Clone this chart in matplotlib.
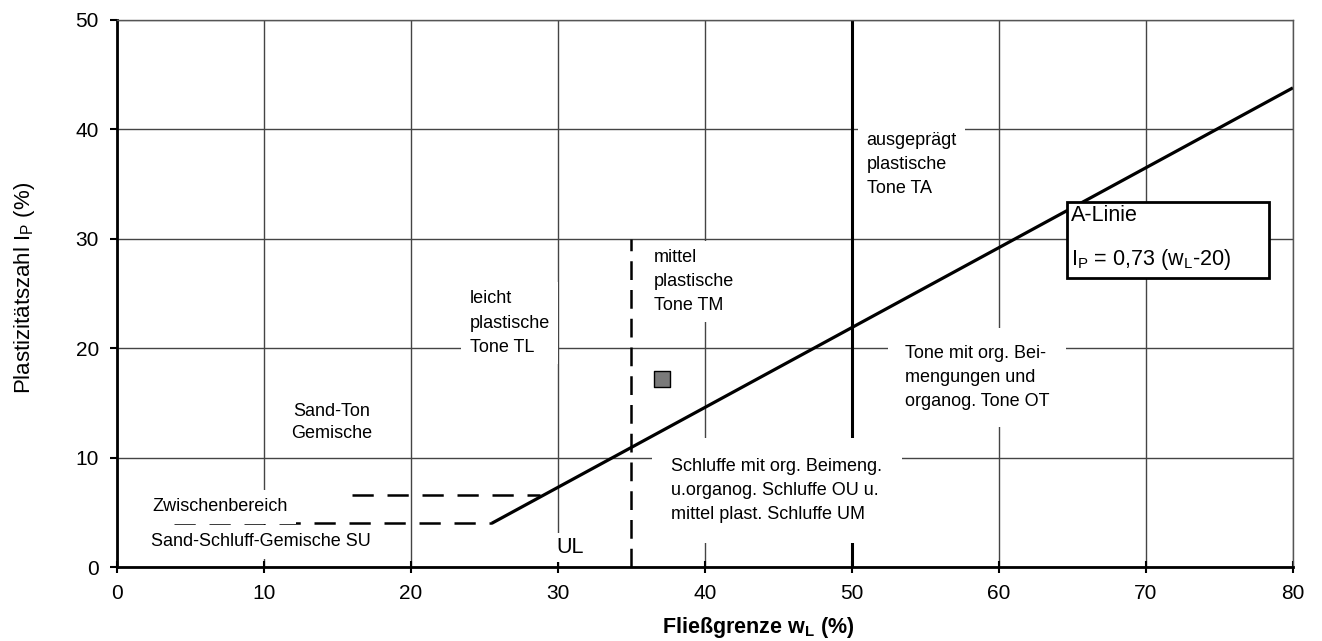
import numpy as np
import matplotlib.pyplot as plt
from matplotlib.patches import Rectangle

plt.rcParams['font.family'] = ['Liberation Sans', 'DejaVu Sans']
plt.rcParams['mathtext.fontset'] = 'custom'
plt.rcParams['mathtext.rm'] = 'Liberation Sans'

# A-Linie: Ip = 0,73 (wL - 20)
a_wl = [25.5, 80.0]
a_ip = [4.0, 43.8]

# Zwischenbereich (gestrichelt)
zw_upper_wl = [16.0, 28.8]
zw_upper_ip = [6.6, 6.6]
zw_lower_wl = [3.9, 25.5]
zw_lower_ip = [4.0, 4.0]

# Grenzen
b35_wl = [35, 35]
b35_ip = [0, 30]
b50_wl = [50, 50]
b50_ip = [0, 50]

# Probe
sample_wl = [37.1]
sample_ip = [17.2]

x_ticks = [0, 10, 20, 30, 40, 50, 60, 70, 80]
y_ticks = [0, 10, 20, 30, 40, 50]

fig = plt.figure(figsize=(13.22, 6.41), dpi=100)
ax = fig.add_axes([0.0885, 0.1154, 0.8895, 0.8534])
ax.set_xlim(0, 80)
ax.set_ylim(0, 50)
ax.set_xticks(x_ticks)
ax.set_yticks(y_ticks)
ax.grid(True, color='#444444', lw=1.0, zorder=0)
ax.set_axisbelow(True)
for s in ['top', 'right']:
    ax.spines[s].set_color('#555555')
    ax.spines[s].set_linewidth(1.0)
for s in ['left', 'bottom']:
    ax.spines[s].set_linewidth(2.0)
ax.tick_params(axis='x', direction='inout', length=8, width=1.5, labelsize=15, pad=8)
ax.tick_params(axis='y', direction='out', length=5, width=1.5, labelsize=15, pad=8)

dash = (0, (8.5, 5.5))
ax.plot(a_wl, a_ip, color='black', lw=2.3, zorder=2, solid_capstyle='butt')
ax.plot(zw_upper_wl, zw_upper_ip, color='black', lw=1.8, ls=dash, zorder=2)
ax.plot(zw_lower_wl, zw_lower_ip, color='black', lw=1.8, ls=dash, zorder=2)
ax.plot(b35_wl, b35_ip, color='black', lw=1.8, ls=(0, (7.5, 4)), zorder=2)
ax.plot(b50_wl, b50_ip, color='black', lw=2.2, zorder=2)
ax.scatter(sample_wl, sample_ip, marker='s', s=130, color='#7a7a7a',
           edgecolors='black', linewidths=1, zorder=4)

box = dict(facecolor='white', edgecolor='none', pad=6)
fs = 13
ls = 1.55
ax.text(14.6, 13.2, 'Sand-Ton\nGemische', ha='center', va='center', fontsize=fs,
        linespacing=ls - 0.2, bbox=box, zorder=3)
ax.text(7.0, 5.5, 'Zwischenbereich', ha='center', va='center', fontsize=fs,
        bbox=box, zorder=3)
ax.text(9.8, 2.3, 'Sand-Schluff-Gemische SU', ha='center', va='center', fontsize=fs,
        bbox=box, zorder=3)
ax.text(30.8, 1.8, 'UL', ha='center', va='center', fontsize=15.5,
        bbox=dict(facecolor='white', edgecolor='none', pad=3), zorder=3)
ax.text(24.0, 22.3, 'leicht\nplastische\nTone TL', ha='left', va='center', fontsize=fs,
        linespacing=ls, bbox=box, zorder=3)
ax.text(36.5, 26.1, 'mittel\nplastische\nTone TM', ha='left', va='center', fontsize=fs,
        linespacing=ls, bbox=box, zorder=3)
ax.text(51.0, 36.8, 'ausgeprägt\nplastische\nTone TA', ha='left', va='center', fontsize=fs,
        linespacing=ls, bbox=box, zorder=3)
ax.text(53.6, 17.3, 'Tone mit org. Bei-\nmengungen und\norganog. Tone OT', ha='left',
        va='center', fontsize=fs, linespacing=ls,
        bbox=dict(facecolor='white', edgecolor='none', pad=12), zorder=3)
ax.text(37.7, 7.0, 'Schluffe mit org. Beimeng.\nu.organog. Schluffe OU u.\nmittel plast. Schluffe UM',
        ha='left', va='center', fontsize=fs, linespacing=ls,
        bbox=dict(facecolor='white', edgecolor='none', pad=14), zorder=3)

# Kasten A-Linie
ax.add_patch(Rectangle((64.6, 26.4), 13.8, 7.0, facecolor='white', edgecolor='black',
                       lw=2, zorder=5))
ax.text(64.9, 32.1, 'A-Linie', ha='left', va='center', fontsize=15.5, zorder=6)
ax.text(64.9, 28.1, r'I$_\mathregular{P}$ = 0,73 (w$_\mathregular{L}$-20)', ha='left',
        va='center', fontsize=15.5, zorder=6)

ax.set_xlabel(r'Fließgrenze w$_\mathregular{L}$ (%)', fontsize=15.5, fontweight='bold')
ax.xaxis.set_label_coords(0.545, -0.088)
ax.set_ylabel(r'Plastizitätszahl I$_\mathregular{P}$ (%)', fontsize=16)
ax.yaxis.set_label_coords(-0.068, 0.51)

fig.savefig('out.png', dpi=100)
